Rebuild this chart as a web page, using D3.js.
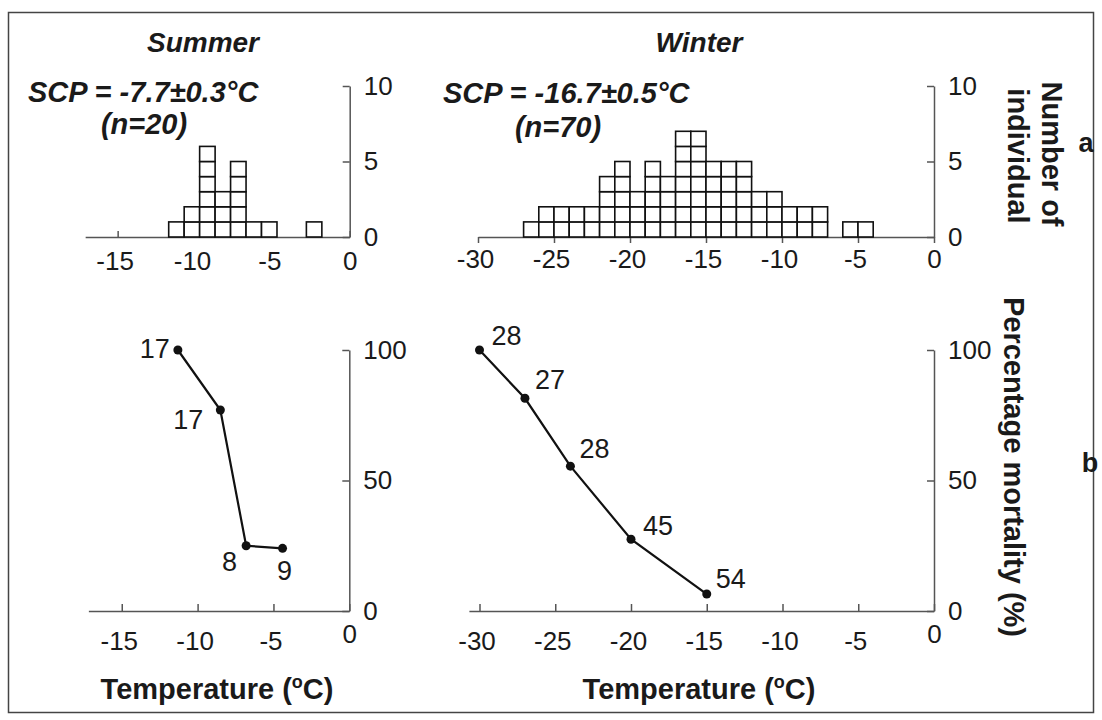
<!DOCTYPE html>
<html>
<head>
<meta charset="utf-8">
<script src="https://cdn.jsdelivr.net/npm/d3@7"></script>
<style>
  body { margin: 0; background: #fff; }
  svg text { font-family: Arial, "Liberation Sans", Helvetica, sans-serif; fill: #1a1a1a; }
</style>
</head>
<body>
<script>
var WIDTH = 1102;
var HEIGHT = 720;

// histogram of supercooling points (bin start in degC, count of individuals)
var summerBinStart = [-11.7, -10.7, -9.7, -8.7, -7.7, -6.7, -5.7, -2.8];
var summerCounts   = [1, 2, 6, 3, 5, 1, 1, 1];
var winterBinStart = [-27, -26, -25, -24, -23, -22, -21, -20, -19, -18, -17, -16, -15, -14, -13, -12, -11, -10, -9, -8, -6, -5];
var winterCounts   = [1, 2, 2, 2, 2, 4, 5, 3, 5, 4, 7, 7, 5, 5, 5, 3, 3, 2, 2, 2, 1, 1];

// mortality after exposure
var summerTemp = [-11.3, -8.5, -6.8, -4.4];
var summerMort = [100, 77, 25, 24];
var summerN    = [17, 17, 8, 9];
var winterTemp = [-30, -27, -24, -20, -15];
var winterMort = [100, 81.5, 55.5, 27.5, 6.5];
var winterN    = [28, 27, 28, 45, 54];

var summerTicks = [-15, -10, -5, 0];
var winterTicks = [-30, -25, -20, -15, -10, -5, 0];
var countTicks = [0, 5, 10];
var mortTicks = [0, 50, 100];

var svg = d3.select("body")
  .append("svg")
  .attr("width", WIDTH)
  .attr("height", HEIGHT);

// frame
svg.append("rect")
  .attr("x", 8.5).attr("y", 12.5)
  .attr("width", 1085).attr("height", 700)
  .attr("fill", "none")
  .attr("stroke", "#444")
  .attr("stroke-width", 1.5);

function tempScale(lo, zeroPx, pxPerDeg) {
  return d3.scaleLinear().domain([lo, 0]).range([zeroPx + lo * pxPerDeg, zeroPx]);
}

var xSumTop = tempScale(-17.1, 349.7, 15.47);
var xWinTop = tempScale(-30, 934, 15.2);
var xSumBot = tempScale(-17.2, 349.3, 15.17);
var xWinBot = tempScale(-30.7, 934, 15.15);
var yCount = d3.scaleLinear().domain([0, 10]).range([237, 86]);
var yMort = d3.scaleLinear().domain([0, 100]).range([611, 350]);

// plain hyphen for negatives, like the original figure
var fmt = function (d) { return String(d); };

function styleAxis(g, size) {
  g.selectAll("path, line").attr("stroke", "#555").attr("stroke-width", 1.5);
  g.selectAll("text")
    .attr("fill", "#1a1a1a")
    .style("font-family", "Arial, 'Liberation Sans', sans-serif")
    .style("font-size", size + "px");
}

function drawXAxis(scale, ticks, y, tickSize, labelBase, zeroLift) {
  var g = svg.append("g")
    .attr("transform", "translate(0," + y + ")")
    .call(d3.axisBottom(scale).tickValues(ticks).tickSize(tickSize).tickSizeOuter(0).tickFormat(fmt));
  styleAxis(g, 26);
  g.selectAll(".tick text")
    .attr("dy", 0)
    .attr("dx", function (d) { return d < 0 ? -3 : 0; })
    .attr("y", function (d) { return d === 0 ? labelBase - zeroLift : labelBase; });
  return g;
}

function drawYAxis(scale, ticks, x) {
  var g = svg.append("g")
    .attr("transform", "translate(" + x + ",0)")
    .call(d3.axisRight(scale).tickValues(ticks).tickSize(-7).tickPadding(14).tickSizeOuter(0).tickFormat(fmt));
  styleAxis(g, 26);
  return g;
}

// ---- top row: histograms ----
drawXAxis(xSumTop, summerTicks, 237, -6, 33, 0);
drawXAxis(xWinTop, winterTicks, 237, 6, 31, 0);
drawYAxis(yCount, countTicks, 349.7);
drawYAxis(yCount, countTicks, 934);

function drawHist(scale, starts, counts) {
  var boxes = [];
  starts.forEach(function (s, i) {
    for (var k = 0; k < counts[i]; k++) boxes.push({ start: s, level: k });
  });
  svg.append("g").selectAll("rect")
    .data(boxes)
    .enter()
    .append("rect")
    .attr("x", function (d) { return scale(d.start); })
    .attr("y", function (d) { return yCount(d.level + 1); })
    .attr("width", function (d) { return scale(d.start + 1) - scale(d.start); })
    .attr("height", function (d) { return yCount(d.level) - yCount(d.level + 1); })
    .attr("fill", "#fff")
    .attr("stroke", "#111")
    .attr("stroke-width", 1.6);
}

drawHist(xSumTop, summerBinStart, summerCounts);
drawHist(xWinTop, winterBinStart, winterCounts);

// ---- bottom row: mortality ----
drawXAxis(xSumBot, summerTicks, 611, -7, 39, 7);
drawXAxis(xWinBot, winterTicks, 611, -7, 39, 7);
drawYAxis(yMort, mortTicks, 349.3);
drawYAxis(yMort, mortTicks, 934);

function drawMort(scale, temps, morts, ns, place) {
  var pts = temps.map(function (t, i) { return { t: t, m: morts[i], n: ns[i], p: place[i] }; });
  var line = d3.line()
    .x(function (d) { return scale(d.t); })
    .y(function (d) { return yMort(d.m); });
  svg.append("path")
    .datum(pts)
    .attr("d", line)
    .attr("fill", "none")
    .attr("stroke", "#111")
    .attr("stroke-width", 2.2);
  svg.append("g").selectAll("circle")
    .data(pts)
    .enter()
    .append("circle")
    .attr("cx", function (d) { return scale(d.t); })
    .attr("cy", function (d) { return yMort(d.m); })
    .attr("r", 4.5)
    .attr("fill", "#111");
  svg.append("g").selectAll("text")
    .data(pts)
    .enter()
    .append("text")
    .attr("x", function (d) { return scale(d.t) + d.p[0]; })
    .attr("y", function (d) { return yMort(d.m) + d.p[1]; })
    .attr("text-anchor", function (d) { return d.p[2]; })
    .style("font-size", "27px")
    .text(function (d) { return d.n; });
}

drawMort(xSumBot, summerTemp, summerMort, summerN,
  [[-8, 8, "end"], [-17, 19, "end"], [-9, 25, "end"], [2, 32, "middle"]]);
drawMort(xWinBot, winterTemp, winterMort, winterN,
  [[12, -5, "start"], [10, -9, "start"], [9, -8, "start"], [12, -4, "start"], [9, -6, "start"]]);

// ---- titles and labels ----
function label(x, y, str, opts) {
  return svg.append("text")
    .attr("x", x).attr("y", y)
    .attr("text-anchor", opts.anchor || "middle")
    .style("font-size", (opts.size || 28) + "px")
    .style("font-weight", opts.weight || "bold")
    .style("font-style", opts.style || "normal")
    .text(str);
}

label(203, 52, "Summer", { style: "italic" });
label(699, 52, "Winter", { style: "italic" });
label(28, 102, "SCP = -7.7\u00b10.3\u00b0C", { anchor: "start", style: "italic", size: 29 });
label(144, 134, "(n=20)", { style: "italic", size: 29 });
label(443, 103, "SCP = -16.7\u00b10.5\u00b0C", { anchor: "start", style: "italic", size: 29 });
label(558, 137, "(n=70)", { style: "italic", size: 29 });

label(1086, 152, "a", { size: 27 });
label(1090, 472, "b", { size: 27 });

function tempTitle(cx) {
  var t = svg.append("text")
    .attr("x", cx).attr("y", 699)
    .attr("text-anchor", "middle")
    .style("font-size", "29px")
    .style("font-weight", "bold");
  t.append("tspan").text("Temperature (");
  t.append("tspan").attr("dy", -11).style("font-size", "18px").text("o");
  t.append("tspan").attr("dy", 11).text("C)");
}
tempTitle(217);
tempTitle(699);

function vLabel(x, y, str) {
  svg.append("text")
    .attr("transform", "translate(" + x + "," + y + ") rotate(90)")
    .attr("text-anchor", "middle")
    .attr("dominant-baseline", "central")
    .style("font-size", "29px")
    .style("font-weight", "bold")
    .text(str);
}
vLabel(1052, 154, "Number of");
vLabel(1018, 156, "individual");
vLabel(1014, 467, "Percentage mortality (%)");
</script>
</body>
</html>
